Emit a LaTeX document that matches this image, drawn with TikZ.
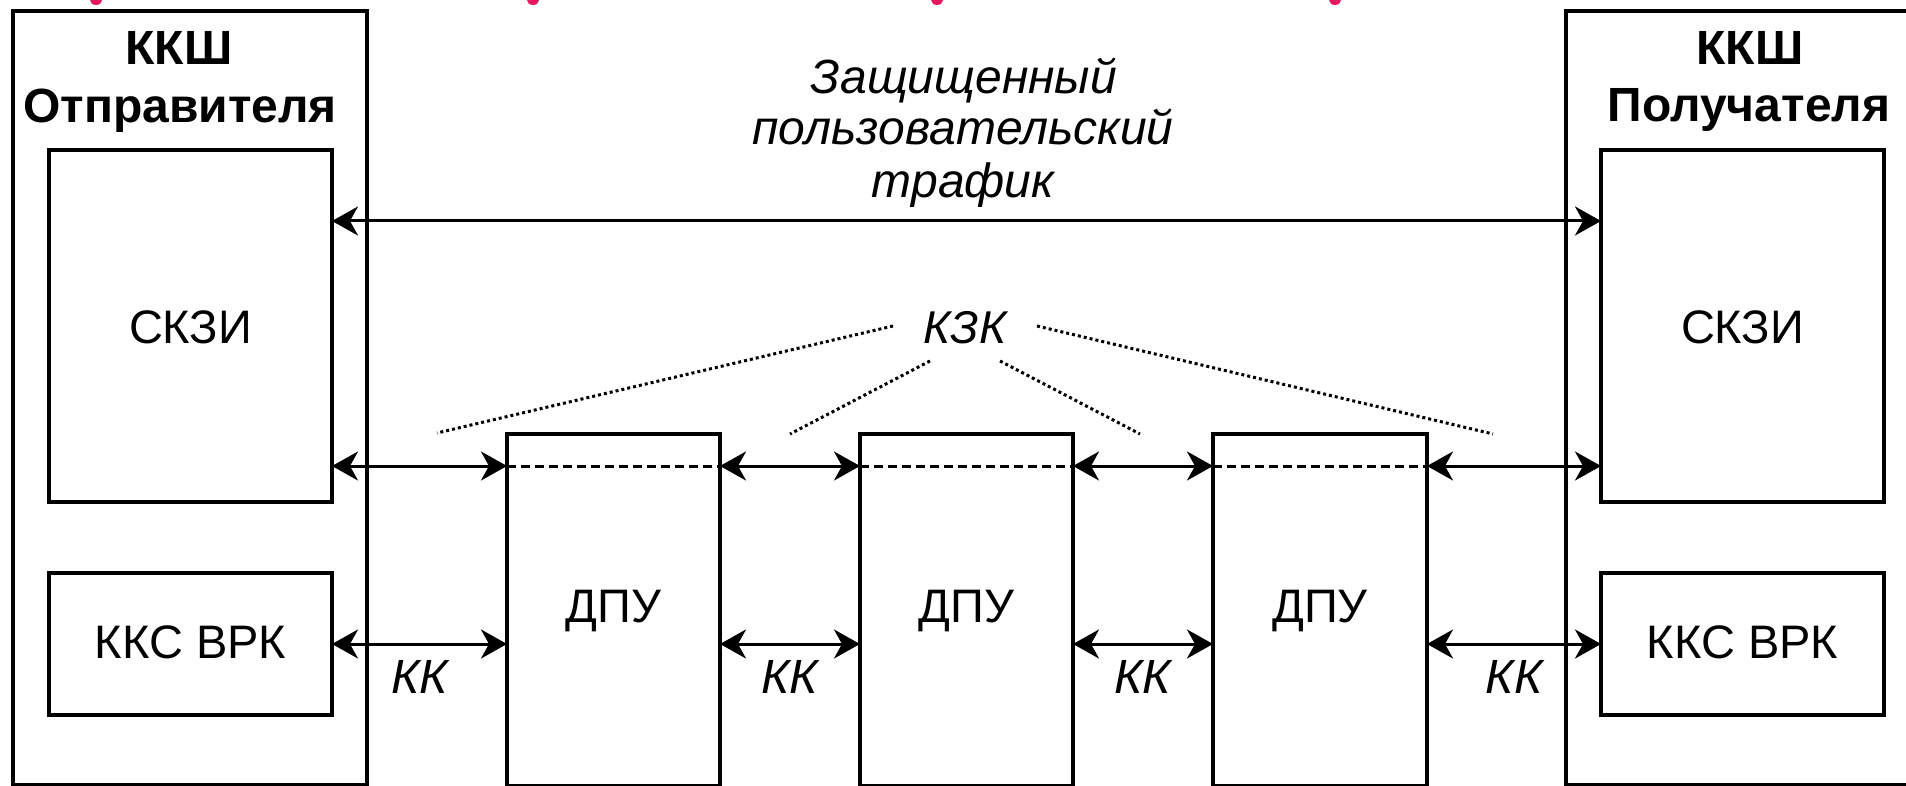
\documentclass[tikz,border=0pt]{standalone}
\usepackage{fontspec}
\setmainfont{Liberation Sans}
\usetikzlibrary{arrows.meta,calc}
\definecolor{pinkc}{RGB}{232,24,96}
\begin{document}
\begin{tikzpicture}[x=1pt,y=-1pt,
  frame/.style={draw, line width=3.5pt, inner sep=0pt, outer sep=0pt, anchor=north west},
  lbl/.style={anchor=base, inner sep=0pt, font=\fontsize{47}{47}\selectfont},
  ttl/.style={anchor=base, inner sep=0pt, font=\fontsize{48}{48}\selectfont\bfseries},
  itl/.style={anchor=base, inner sep=0pt, font=\fontsize{48}{48}\selectfont\itshape},
  link/.style={line width=3pt, {Stealth[length=26pt,width=29pt,inset=8pt]}-{Stealth[length=26pt,width=29pt,inset=8pt]}},
  dots/.style={line width=3pt, dash pattern=on 3pt off 3pt},
  dsh/.style={line width=3pt, dash pattern=on 9pt off 5pt}]
\useasboundingbox (0,0) rectangle (1906,786);
\fill[white] (0,0) rectangle (1906,786);
\clip (0,0) rectangle (1906,786);

% pink fragments at the top edge
\fill[pinkc] (96,0) ellipse [x radius=6, y radius=5];
\fill[pinkc] (533,0) ellipse [x radius=6, y radius=5];
\fill[pinkc] (937,0) ellipse [x radius=6, y radius=5];
\fill[pinkc] (1335,0) ellipse [x radius=6, y radius=5];

% boxes
\node[frame, minimum width=354pt, minimum height=774pt] (outL) at (13,11) {};
\node[frame, minimum width=283pt, minimum height=352pt] (skziL) at (49,150) {};
\node[frame, minimum width=283pt, minimum height=142pt] (kksL) at (49,573) {};
\node[frame, minimum width=213pt, minimum height=352pt] (dpu1) at (507,434) {};
\node[frame, minimum width=213pt, minimum height=352pt] (dpu2) at (860,434) {};
\node[frame, minimum width=214pt, minimum height=352pt] (dpu3) at (1213,434) {};
\node[frame, minimum width=354pt, minimum height=774pt] (outR) at (1566,11) {};
\node[frame, minimum width=283pt, minimum height=352pt] (skziR) at (1601,150) {};
\node[frame, minimum width=283pt, minimum height=142pt] (kksR) at (1601,573) {};

% texts
\node[ttl] (t1) at (179,65) {ККШ};
\node[ttl] (t2) at (180,123) {Отправителя};
\node[ttl] (t3) at (1750,65) {ККШ};
\node[ttl] (t4) at (1749,122) {Получателя};
\node[lbl] (s1) at (190.5,343) {СКЗИ};
\node[lbl] (s2) at (1742.5,343) {СКЗИ};
\node[lbl] (k1) at (190.5,658) {ККС ВРК};
\node[lbl] (k2) at (1742.5,658) {ККС ВРК};
\node[lbl] (d1) at (613.5,622) {ДПУ};
\node[lbl] (d2) at (966.5,622) {ДПУ};
\node[lbl] (d3) at (1320,622) {ДПУ};
\node[itl] (tr1) at (964,94) {Защищенный};
\node[itl] (tr2) at (963,145) {пользовательский};
\node[itl] (tr3) at (963,198) {трафик};
\node[itl, font=\fontsize{46}{46}\selectfont\itshape] (kzk) at (965,343) {КЗК};
\node[itl] (kk1) at (420,693) {КК};
\node[itl] (kk2) at (790,693) {КК};
\node[itl] (kk3) at (1143,693) {КК};
\node[itl] (kk4) at (1514,693) {КК};

% levels
\coordinate (yTop) at (0,221);
\coordinate (yMid) at (0,466);

% user traffic
\draw[link] (skziL.east |- yTop) -- (skziR.west |- yTop);

% middle chain
\draw[link] (skziL.east |- yMid) -- (dpu1.west |- yMid);
\draw[link] (dpu1.east |- yMid) -- (dpu2.west |- yMid);
\draw[link] (dpu2.east |- yMid) -- (dpu3.west |- yMid);
\draw[link] (dpu3.east |- yMid) -- (skziR.west |- yMid);
\draw[dsh] (dpu1.west |- yMid) -- (dpu1.east |- yMid);
\draw[dsh] (dpu2.west |- yMid) -- (dpu2.east |- yMid);
\draw[dsh] (dpu3.west |- yMid) -- (dpu3.east |- yMid);

% control channels
\draw[link] (kksL.east) -- (dpu1.west |- kksL.east);
\draw[link] (dpu1.east |- kksL.east) -- (dpu2.west |- kksL.east);
\draw[link] (dpu2.east |- kksL.east) -- (dpu3.west |- kksL.east);
\draw[link] (dpu3.east |- kksR.west) -- (kksR.west);

% dotted leaders from KZK
\coordinate (a1) at (893,326); \coordinate (b1) at (437,433);
\coordinate (a2) at (930,361); \coordinate (b2) at (790,434);
\coordinate (a3) at (1000,361); \coordinate (b3) at (1140,434);
\coordinate (a4) at (1037,326); \coordinate (b4) at (1493,434);
\draw[dots] (a1) -- (b1);
\draw[dots] (a2) -- (b2);
\draw[dots] (a3) -- (b3);
\draw[dots] (a4) -- (b4);
\end{tikzpicture}
\end{document}
